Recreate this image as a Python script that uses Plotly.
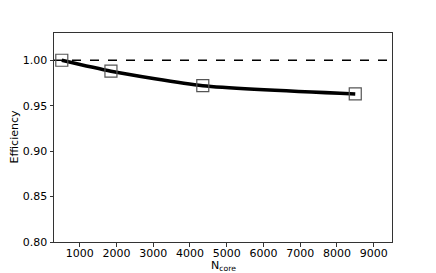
import plotly.graph_objects as go

# strong scaling data
n_core = [512, 1850, 4350, 8500]
efficiency = [1.000, 0.988, 0.972, 0.963]
ideal_x = [300, 9500]
ideal_y = [1.0, 1.0]

fig = go.Figure()

fig.add_trace(go.Scatter(
    x=ideal_x, y=ideal_y, mode="lines",
    line=dict(color="black", width=1.5, dash="dash"),
    showlegend=False
))
fig.add_trace(go.Scatter(
    x=n_core, y=efficiency, mode="lines",
    line=dict(color="black", width=3.5, shape="spline", smoothing=0.6),
    showlegend=False
))
fig.add_trace(go.Scatter(
    x=n_core, y=efficiency, mode="markers",
    marker=dict(symbol="square-open", size=12, color="#555555", line=dict(width=1.2)),
    showlegend=False
))

axis_style = dict(
    showline=True, linecolor="#333333", linewidth=1, mirror=True,
    ticks="outside", ticklen=3.5, tickwidth=1, tickcolor="#333333",
    showgrid=False, zeroline=False, automargin=False,
    tickfont=dict(family="DejaVu Sans", size=11, color="black"),
)

fig.update_xaxes(range=[300, 9500], tickvals=[1000, 2000, 3000, 4000, 5000, 6000, 7000, 8000, 9000],
                 ticklabelstandoff=-3, **axis_style)
fig.update_yaxes(range=[0.8, 1.03], tickvals=[0.80, 0.85, 0.90, 0.95, 1.00], tickformat=".2f",
                 **axis_style)

# axis titles as annotations so they sit where the reference has them
title_font = dict(family="DejaVu Sans", size=11, color="black")
fig.add_annotation(text="N<sub>core</sub>", xref="paper", yref="paper", x=0.5, y=0,
                   xanchor="center", yanchor="middle", yshift=-24, showarrow=False, font=title_font)
fig.add_annotation(text="Efficiency", xref="paper", yref="paper", x=0, y=0.5,
                   xanchor="center", yanchor="middle", xshift=-40, textangle=-90,
                   showarrow=False, font=title_font)

# page body has an 8px margin, so the figure starts at (8, 8)
fig.update_layout(
    width=428, height=265,
    margin=dict(l=46, r=44, t=25, b=31),
    plot_bgcolor="white", paper_bgcolor="white",
)

fig.write_html("out.html")
